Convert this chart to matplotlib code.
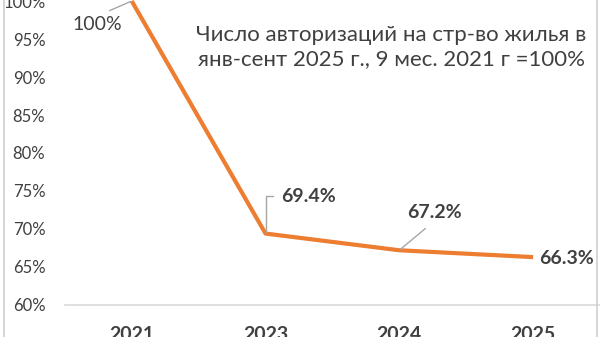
import matplotlib
matplotlib.use("Agg")
import matplotlib.pyplot as plt
from matplotlib.lines import Line2D

plt.rcParams['font.family'] = ['Lato', 'Open Sans', 'DejaVu Sans']

years = ["2021", "2023", "2024", "2025"]
values = [1.00, 0.694, 0.672, 0.663]
labels = ["100%", "69.4%", "67.2%", "66.3%"]
yticks = [0.60, 0.65, 0.70, 0.75, 0.80, 0.85, 0.90, 0.95, 1.00]
title = "Число авторизаций на стр-во жилья в\nянв-сент 2025 г., 9 мес. 2021 г =100%"

txt = "#404040"

fig = plt.figure(figsize=(6.0, 3.37), dpi=100)
ax = fig.add_axes([0.108, 0.095, 0.892, 0.902])

x = range(len(years))
ax.plot(x, values, color="#ED7D31", lw=3.0, clip_on=False, solid_capstyle="butt", zorder=3)

ax.set_xlim(-0.5, 3.5)
ax.set_ylim(0.60, 1.00)
ax.set_yticks(yticks)
ax.set_yticklabels([f"{int(round(t*100))}%" for t in yticks], fontsize=12, color=txt)
ax.set_xticks(list(x))
ax.set_xticklabels(years, fontsize=14, color=txt, fontweight="bold")
ax.tick_params(axis="y", length=0, pad=14)
ax.tick_params(axis="x", length=0, pad=15)
for s in ["top", "right", "left"]:
    ax.spines[s].set_visible(False)
ax.spines["bottom"].set_color("#d9d9d9")
ax.spines["bottom"].set_linewidth(1.2)

# data labels with leader lines (offsets in points)
lead = "#a6a6a6"
ax.annotate(labels[0], (0, values[0]), xytext=(-25, -17), textcoords="offset points",
            ha="center", va="center", fontsize=14, color=txt,
            arrowprops=dict(arrowstyle="-", color=lead, lw=1.0, relpos=(0.5, 1.0),
                            shrinkA=5, shrinkB=1))
ax.annotate(labels[1], (1, values[1]), xytext=(31, 27), textcoords="offset points",
            ha="center", va="center", fontsize=14, color=txt, fontweight="bold",
            arrowprops=dict(arrowstyle="-", color=lead, lw=1.0, relpos=(0.0, 0.5),
                            connectionstyle="angle,angleA=0,angleB=90,rad=0",
                            shrinkA=4, shrinkB=1))
ax.annotate(labels[2], (2, values[2]), xytext=(25, 27), textcoords="offset points",
            ha="center", va="center", fontsize=14, color=txt, fontweight="bold",
            arrowprops=dict(arrowstyle="-", color=lead, lw=1.0, relpos=(0.5, 0.0),
                            shrinkA=5, shrinkB=1))
ax.annotate(labels[3], (3, values[3]), xytext=(4, -1), textcoords="offset points",
            ha="left", va="center", fontsize=14, color=txt, fontweight="bold")

fig.text(0.652, 0.86, title, ha="center", va="center", fontsize=16,
         color=txt, linespacing=1.3)

# chart frame edges
fig.add_artist(Line2D([0.006, 0.006], [0, 1], transform=fig.transFigure, color="#d0d0d0", lw=1.2))
fig.add_artist(Line2D([0.995, 0.995], [0, 1], transform=fig.transFigure, color="#d0d0d0", lw=1.2))

fig.savefig("out.png", dpi=100)
